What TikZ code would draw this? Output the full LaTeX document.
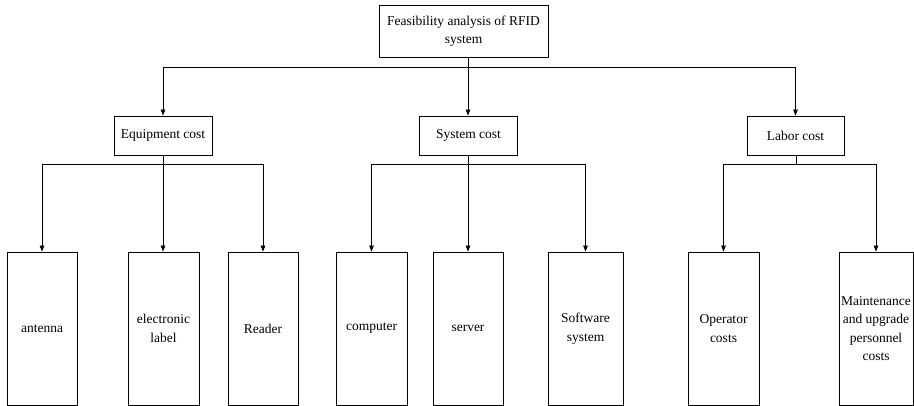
\documentclass[tikz,border=0pt]{standalone}
\usepackage{fontspec}
\setmainfont{Liberation Serif}
\usetikzlibrary{arrows.meta}
\begin{document}
\begin{tikzpicture}[x=1pt,y=-1pt,
  box/.style={draw,line width=0.8pt,inner sep=1pt,align=center,font=\fontsize{13.5}{18.5}\selectfont},
  leaf/.style={box,minimum height=153pt},
  link/.style={line width=0.8pt},
  arr/.style={line width=0.8pt,-{Triangle[length=6pt,width=4.5pt]}}]
\useasboundingbox (0,0) rectangle (914,406);
\node[box,minimum width=169pt,minimum height=52pt] (top) at (463.5,31) {Feasibility analysis of RFID\\system};
\node[box,minimum width=98pt,minimum height=39pt] (eq) at (163,135.5) {Equipment cost};
\node[box,minimum width=98pt,minimum height=39pt] (sy) at (468.5,135.5) {System cost};
\node[box,minimum width=97pt,minimum height=39pt] (lb) at (795.5,135.5) {Labor cost};
\node[leaf,minimum width=70pt] (an) at (42,328.5) {antenna};
\node[leaf,minimum width=71pt] (el) at (163.5,328.5) {electronic\\label};
\node[leaf,minimum width=70pt] (rd) at (263,328.5) {Reader};
\node[leaf,minimum width=71pt] (cp) at (371.5,328.5) {computer};
\node[leaf,minimum width=70pt] (sv) at (468,328.5) {server};
\node[leaf,minimum width=75pt] (sw) at (585.5,328.5) {Software\\system};
\node[leaf,minimum width=71pt] (op) at (723.5,328.5) {Operator\\costs};
\node[leaf,minimum width=74pt] (mt) at (876,328.5) {Maintenance\\and upgrade\\personnel\\costs};
\coordinate (j0) at (468,67);
\draw[link] (top.south -| j0) -- (j0);
\draw[link] (eq.north |- j0) -- (lb.north |- j0);
\draw[arr] (eq.north |- j0) -- (eq.north);
\draw[arr] (j0) -- (sy.north -| j0);
\draw[arr] (lb.north |- j0) -- (lb.north);
% equipment
\coordinate (j1) at (163,164);
\draw[link] (eq.south) -- (j1);
\draw[link] (an.north |- j1) -- (rd.north |- j1);
\draw[arr] (an.north |- j1) -- (an.north);
\draw[arr] (j1) -- (el.north -| j1);
\draw[arr] (rd.north |- j1) -- (rd.north);
% system
\coordinate (j2) at (468,164);
\draw[link] (sy.south -| j2) -- (j2);
\draw[link] (cp.north |- j2) -- (sw.north |- j2);
\draw[arr] (cp.north |- j2) -- (cp.north);
\draw[arr] (j2) -- (sv.north -| j2);
\draw[arr] (sw.north |- j2) -- (sw.north);
% labor
\coordinate (j3) at (796,164);
\draw[link] (lb.south -| j3) -- (j3);
\draw[link] (op.north |- j3) -- (mt.north |- j3);
\draw[arr] (op.north |- j3) -- (op.north);
\draw[arr] (mt.north |- j3) -- (mt.north);
\end{tikzpicture}
\end{document}
